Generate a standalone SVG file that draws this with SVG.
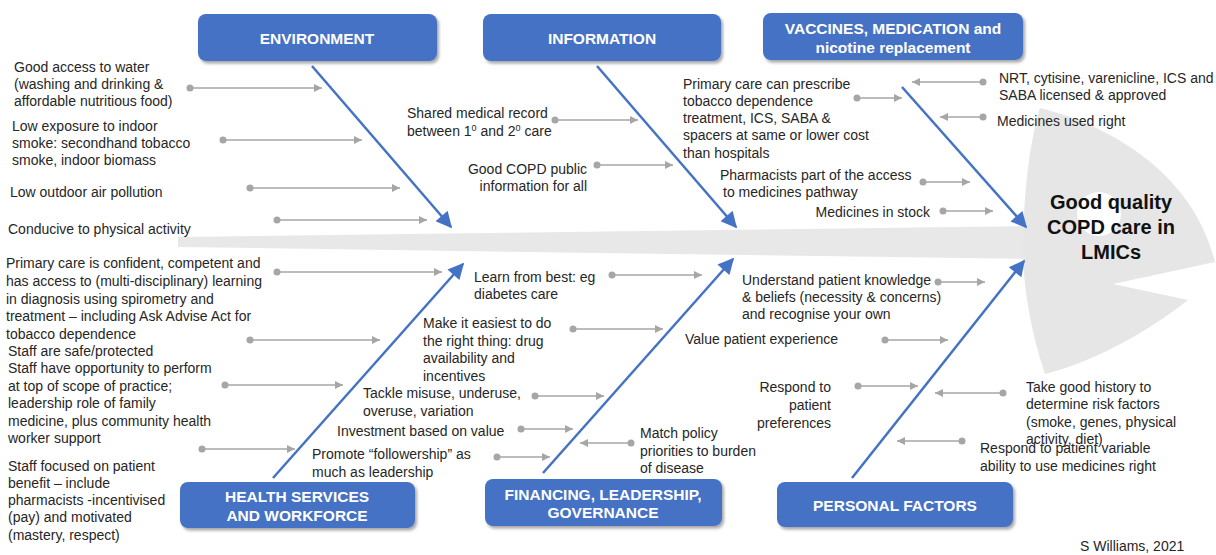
<svg xmlns="http://www.w3.org/2000/svg" width="1216" height="555" viewBox="0 0 1216 555">
<defs>
<style>
.t{font-family:"Liberation Sans",Arial,sans-serif;font-size:14px;fill:#262626}
.e{text-anchor:end}
.bt{font-family:"Liberation Sans",Arial,sans-serif;font-size:15.5px;font-weight:bold;fill:#fff;text-anchor:middle}
.box{fill:#4472c4;filter:url(#sh)}
.g{stroke:#a6a6a6;stroke-width:1.5;fill:none;marker-end:url(#ga)}
.dot{fill:#a6a6a6}
.b{stroke:#4472c4;stroke-width:2.5;fill:none;marker-end:url(#ba)}
.hd{font-family:"Liberation Sans",Arial,sans-serif;font-size:20px;font-weight:bold;fill:#111;text-anchor:middle}
</style>
<filter id="sh" x="-10%" y="-20%" width="120%" height="150%">
<feDropShadow dx="2" dy="2.5" stdDeviation="1.5" flood-color="#000" flood-opacity="0.35"/>
</filter>
<marker id="ga" viewBox="0 0 10 10" refX="10" refY="5" markerWidth="9" markerHeight="8" markerUnits="userSpaceOnUse" orient="auto">
<path d="M0,0 L10,5 L0,10 Z" fill="#a6a6a6"/>
</marker>
<marker id="ba" viewBox="0 0 10 10" refX="9" refY="5" markerWidth="20" markerHeight="16" markerUnits="userSpaceOnUse" orient="auto">
<path d="M0,0 L10,5 L0,10 Z" fill="#4472c4"/>
</marker>
</defs>
<rect width="1216" height="555" fill="#fff"/>

<g id="spine">
<polygon points="178,237 1032,226 1032,259 178,247" fill="#e8e8e8"/>
</g>

<g id="head">
<path d="M1040,108 C1120,128 1195,180 1215,262 L1113,284 L1188,300 C1150,330 1095,362 1045,374 C1030,330 1022,280 1023,242 C1024,190 1030,140 1040,108 Z" fill="#e6e6e6"/>
<circle cx="1099" cy="214" r="22" fill="#fff"/>
<text class="hd"><tspan x="1111" y="209">Good quality</tspan><tspan x="1111" y="234">COPD care in</tspan><tspan x="1111" y="259">LMICs</tspan></text>
</g>

<g id="environment">
<rect class="box" x="198" y="14" width="239" height="47" rx="8"/>
<text class="bt" x="317" y="44">ENVIRONMENT</text>
</g>
<g id="information">
<rect class="box" x="483" y="14" width="238" height="47" rx="8"/>
<text class="bt" x="602" y="44">INFORMATION</text>
</g>
<g id="vaccines">
<rect class="box" x="763" y="13" width="260" height="47" rx="8"/>
<text class="bt"><tspan x="893" y="34">VACCINES, MEDICATION and</tspan><tspan x="893" y="53">nicotine replacement</tspan></text>
</g>
<g id="health-services">
<rect class="box" x="180" y="482" width="235" height="46" rx="8"/>
<text class="bt"><tspan x="297" y="502">HEALTH SERVICES</tspan><tspan x="297" y="521">AND WORKFORCE</tspan></text>
</g>
<g id="financing">
<rect class="box" x="485" y="479" width="237" height="47" rx="8"/>
<text class="bt"><tspan x="603" y="500">FINANCING, LEADERSHIP,</tspan><tspan x="603" y="518">GOVERNANCE</tspan></text>
</g>
<g id="personal">
<rect class="box" x="777" y="482" width="236" height="45" rx="8"/>
<text class="bt" x="895" y="511">PERSONAL FACTORS</text>
</g>

<g id="connectors">
<line class="b" x1="312" y1="66" x2="451" y2="227"/>
<line class="b" x1="597" y1="66" x2="736" y2="227"/>
<line class="b" x1="902" y1="87" x2="1026" y2="227"/>
<line class="b" x1="273" y1="478" x2="463" y2="264"/>
<line class="b" x1="543" y1="473" x2="733" y2="259"/>
<line class="b" x1="852" y1="478" x2="1024" y2="261"/>

<circle class="dot" cx="190" cy="88" r="3.5"/><line class="g" x1="190" y1="88" x2="322" y2="88"/>
<circle class="dot" cx="223" cy="140" r="3.5"/><line class="g" x1="223" y1="140" x2="362" y2="140"/>
<circle class="dot" cx="250" cy="188" r="3.5"/><line class="g" x1="250" y1="188" x2="400" y2="188"/>
<circle class="dot" cx="277" cy="220" r="3.5"/><line class="g" x1="277" y1="220" x2="427" y2="220"/>
<circle class="dot" cx="555" cy="120" r="3.5"/><line class="g" x1="555" y1="120" x2="638" y2="120"/>
<circle class="dot" cx="597" cy="165" r="3.5"/><line class="g" x1="597" y1="165" x2="673" y2="165"/>
<circle class="dot" cx="857" cy="98" r="3.5"/><line class="g" x1="857" y1="98" x2="902" y2="98"/>
<circle class="dot" cx="983" cy="82" r="3.5"/><line class="g" x1="983" y1="82" x2="912" y2="82"/>
<circle class="dot" cx="983" cy="117" r="3.5"/><line class="g" x1="983" y1="117" x2="940" y2="117"/>
<circle class="dot" cx="923" cy="182" r="3.5"/><line class="g" x1="923" y1="182" x2="970" y2="182"/>
<circle class="dot" cx="943" cy="211" r="3.5"/><line class="g" x1="943" y1="211" x2="993" y2="211"/>
<circle class="dot" cx="277" cy="272" r="3.5"/><line class="g" x1="277" y1="272" x2="442" y2="272"/>
<circle class="dot" cx="250" cy="340" r="3.5"/><line class="g" x1="250" y1="340" x2="380" y2="340"/>
<circle class="dot" cx="225" cy="385" r="3.5"/><line class="g" x1="225" y1="385" x2="343" y2="385"/>
<circle class="dot" cx="202" cy="449" r="3.5"/><line class="g" x1="202" y1="449" x2="295" y2="449"/>
<circle class="dot" cx="612" cy="275" r="3.5"/><line class="g" x1="612" y1="275" x2="702" y2="275"/>
<circle class="dot" cx="573" cy="329" r="3.5"/><line class="g" x1="573" y1="329" x2="663" y2="329"/>
<circle class="dot" cx="535" cy="396" r="3.5"/><line class="g" x1="535" y1="396" x2="604" y2="396"/>
<circle class="dot" cx="521" cy="429" r="3.5"/><line class="g" x1="521" y1="429" x2="573" y2="429"/>
<circle class="dot" cx="497" cy="457" r="3.5"/><line class="g" x1="497" y1="457" x2="550" y2="457"/>
<circle class="dot" cx="631" cy="443" r="3.5"/><line class="g" x1="631" y1="443" x2="580" y2="443"/>
<circle class="dot" cx="938" cy="282" r="3.5"/><line class="g" x1="938" y1="282" x2="985" y2="282"/>
<circle class="dot" cx="885" cy="340" r="3.5"/><line class="g" x1="885" y1="340" x2="948" y2="340"/>
<circle class="dot" cx="858" cy="386" r="3.5"/><line class="g" x1="858" y1="386" x2="918" y2="386"/>
<circle class="dot" cx="1003" cy="393" r="3.5"/><line class="g" x1="1003" y1="393" x2="935" y2="393"/>
<circle class="dot" cx="962" cy="441" r="3.5"/><line class="g" x1="962" y1="441" x2="897" y2="441"/>
</g>

<g id="water"><text class="t"><tspan x="14" y="72">Good access to water</tspan><tspan x="14" y="89">(washing and drinking &amp;</tspan><tspan x="14" y="106">affordable nutritious food)</tspan></text></g>
<g id="smoke"><text class="t"><tspan x="12" y="131">Low exposure to indoor</tspan><tspan x="12" y="148">smoke: secondhand tobacco</tspan><tspan x="12" y="165">smoke, indoor biomass</tspan></text></g>
<g id="outdoor"><text class="t" x="10" y="197">Low outdoor air pollution</text></g>
<g id="physical"><text class="t" x="8" y="234">Conducive to physical activity</text></g>

<g id="shared-record"><text class="t"><tspan x="407" y="118">Shared medical record</tspan><tspan x="407" y="136">between 1<tspan font-size="9" dy="-5">0</tspan><tspan dy="5"> and 2</tspan><tspan font-size="9" dy="-5">0</tspan><tspan dy="5"> care</tspan></tspan></text></g>
<g id="public-info"><text class="t e"><tspan x="587" y="174">Good COPD public</tspan><tspan x="587" y="191">information for all</tspan></text></g>

<g id="prescribe"><text class="t"><tspan x="683" y="89">Primary care can prescribe</tspan><tspan x="683" y="106">tobacco dependence</tspan><tspan x="683" y="123">treatment, ICS, SABA &amp;</tspan><tspan x="683" y="140">spacers at same or lower cost</tspan><tspan x="683" y="158">than hospitals</tspan></text></g>
<g id="pharmacists"><text class="t"><tspan x="720" y="180">Pharmacists part of the access</tspan><tspan x="723" y="197">to medicines pathway</tspan></text></g>
<g id="stock"><text class="t e" x="930" y="217">Medicines in stock</text></g>
<g id="licensed"><text class="t"><tspan x="999" y="83">NRT, cytisine, varenicline, ICS and</tspan><tspan x="999" y="100">SABA licensed &amp; approved</tspan></text></g>
<g id="used-right"><text class="t" x="997" y="126">Medicines used right</text></g>

<g id="primary-care"><text class="t"><tspan x="6" y="268">Primary care is confident, competent and</tspan><tspan x="6" y="286">has access to (multi-disciplinary) learning</tspan><tspan x="6" y="304">in diagnosis using spirometry and</tspan><tspan x="6" y="321">treatment – including Ask Advise Act for</tspan><tspan x="6" y="339">tobacco dependence</tspan></text></g>
<g id="safe"><text class="t" x="8" y="356">Staff are safe/protected</text></g>
<g id="opportunity"><text class="t"><tspan x="8" y="373">Staff have opportunity to perform</tspan><tspan x="8" y="391">at top of scope of practice;</tspan><tspan x="8" y="408">leadership role of family</tspan><tspan x="8" y="426">medicine, plus community health</tspan><tspan x="8" y="443">worker support</tspan></text></g>
<g id="focused"><text class="t"><tspan x="8" y="471">Staff focused on patient</tspan><tspan x="8" y="488">benefit – include</tspan><tspan x="8" y="505">pharmacists -incentivised</tspan><tspan x="8" y="522">(pay) and motivated</tspan><tspan x="8" y="540">(mastery, respect)</tspan></text></g>

<g id="learn"><text class="t"><tspan x="474" y="282">Learn from best: eg</tspan><tspan x="474" y="299">diabetes care</tspan></text></g>
<g id="easiest"><text class="t"><tspan x="423" y="328">Make it easiest to do</tspan><tspan x="423" y="346">the right thing: drug</tspan><tspan x="423" y="363">availability  and</tspan><tspan x="423" y="381">incentives</tspan></text></g>
<g id="misuse"><text class="t"><tspan x="363" y="398">Tackle misuse, underuse,</tspan><tspan x="363" y="416">overuse, variation</tspan></text></g>
<g id="investment"><text class="t" x="337" y="436">Investment based on value</text></g>
<g id="followership"><text class="t"><tspan x="312" y="459">Promote “followership” as</tspan><tspan x="312" y="477">much as leadership</tspan></text></g>
<g id="policy"><text class="t"><tspan x="640" y="438">Match policy</tspan><tspan x="640" y="456">priorities to burden</tspan><tspan x="640" y="473">of disease</tspan></text></g>

<g id="understand"><text class="t"><tspan x="742" y="285">Understand patient knowledge</tspan><tspan x="742" y="302">&amp; beliefs (necessity &amp; concerns)</tspan><tspan x="742" y="319">and recognise your own</tspan></text></g>
<g id="experience"><text class="t" x="685" y="344">Value patient experience</text></g>
<g id="preferences"><text class="t e"><tspan x="831" y="392">Respond to</tspan><tspan x="831" y="410">patient</tspan><tspan x="831" y="428">preferences</tspan></text></g>
<g id="history"><text class="t"><tspan x="1026" y="392">Take good history to</tspan><tspan x="1026" y="409">determine risk factors</tspan><tspan x="1026" y="427">(smoke, genes, physical</tspan><tspan x="1026" y="444">activity, diet)</tspan></text></g>
<g id="variable"><text class="t"><tspan x="980" y="453">Respond to patient variable</tspan><tspan x="980" y="471">ability to use medicines right</tspan></text></g>

<g id="credit"><text class="t" x="1080" y="551">S Williams, 2021</text></g>
</svg>
